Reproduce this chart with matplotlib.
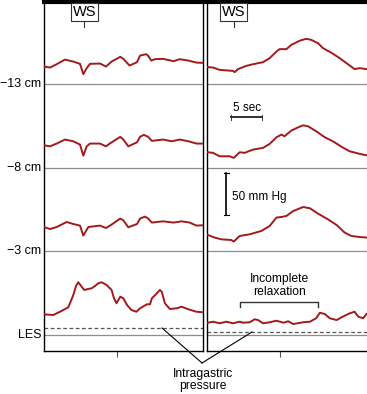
import numpy as np
import matplotlib
matplotlib.use("Agg")
import matplotlib.pyplot as plt
from matplotlib.lines import Line2D

plt.rcParams['font.family'] = ['Liberation Sans', 'DejaVu Sans']

# --- channel data: time (s) and pressure above channel baseline (mm Hg) ---
channel_labels = ["\u221213 cm", "\u22128 cm", "\u22123 cm", "LES"]
channel_offsets = [300, 200, 100, 0]

# left panel (wet swallow, normal)
t_left_13 = [0, 0.97, 2.05, 3.39, 4.73, 5.81, 6.34, 6.89, 7.42, 9.03, 10.0, 10.9, 12.3, 12.8,
             13.8, 15.0, 15.5, 16.5, 16.8, 17.3, 17.9, 19.2, 20.9, 21.9, 23.3, 24.6, 25.7]
p_left_13 = [20.7, 19.5, 23.5, 29, 26.6, 23.9, 11.6, 18.8, 23.9, 24.3, 20.7, 26.6, 32.3, 29.9,
             21.9, 25.9, 33.8, 35.5, 33.5, 27.8, 29.5, 29.9, 27.1, 29.5, 27.8, 25.4, 25.1]

t_left_8 = [0, 0.97, 2.05, 3.39, 4.73, 5.81, 6.34, 6.89, 7.42, 9.03, 10.0, 10.6, 12.3, 12.8,
            13.6, 15.0, 15.5, 16.1, 16.8, 17.4, 19.2, 20.6, 21.9, 23.3, 24.6, 25.7]
p_left_8 = [26.6, 25.4, 28.7, 33.5, 31.4, 27.5, 14.3, 25.4, 28.7, 28.7, 25.4, 28.7, 36.7, 33.5,
            25.4, 30.2, 36.7, 39.1, 36.7, 31.9, 33.5, 31.4, 33.5, 31.4, 28.7, 28.7]

t_left_3 = [0, 0.97, 2.05, 3.66, 4.73, 5.81, 6.34, 7.15, 9.03, 10.0, 10.9, 12.3, 12.8, 13.6,
            15.0, 15.5, 16.3, 16.8, 17.4, 19.2, 20.9, 22.2, 23.5, 24.6, 25.7]
p_left_3 = [29, 26.6, 29, 35, 32.6, 30.7, 18.8, 29, 30.7, 27.8, 31.9, 39.1, 37, 28.7,
            32.6, 39.1, 41.5, 39.1, 34.3, 35.8, 34.3, 35.8, 34.3, 30.7, 31.1]

t_left_les = [0, 1.5, 2.58, 3.92, 4.73, 5.16, 5.53, 6.08, 6.5, 7.15, 7.69, 8.22, 8.76, 9.31,
              10.1, 10.9, 11.3, 11.7, 12.3, 12.8, 13.4, 14.1, 14.9, 15.5, 16.6, 17.1, 17.4,
              18.2, 18.7, 19.0, 19.5, 20.3, 21.4, 22.2, 23.3, 24.6, 25.7]
p_left_les = [24.7, 23.9, 27.8, 33.1, 47.8, 58.5, 63, 57.7, 53.8, 55, 55.8, 58.5, 61.8, 63,
              59.7, 53.8, 43.8, 37.9, 45.8, 43.8, 35.8, 29.9, 27.8, 31.9, 36.7, 36.7, 43.8,
              49.8, 53.8, 51.7, 37.9, 31.1, 31.9, 33.8, 30.7, 27.8, 27.1]

# right panel (wet swallow, incomplete relaxation)
t_right_13 = [0.16, 0.97, 2.05, 4.19, 4.47, 5.0, 6.34, 7.42, 9.03, 10.1, 11.2, 11.7, 12.8,
              13.6, 15.0, 16.0, 16.8, 17.9, 18.7, 20.0, 21.4, 22.5, 23.8, 24.6, 25.7]
p_right_13 = [20, 19.5, 16.7, 15.5, 14, 17.6, 21.5, 23.5, 25.9, 30.7, 38.6, 41.5, 41.5,
              46.6, 51.7, 53.8, 52.6, 48.6, 42.7, 37.4, 30.7, 24.7, 17.6, 18.8, 17.6]

t_right_8 = [0.16, 0.97, 2.05, 3.66, 4.31, 5.27, 6.08, 7.42, 9.03, 10.1, 11.2, 12.0, 12.5,
             13.6, 14.7, 15.5, 16.3, 17.6, 19.0, 20.3, 22.0, 23.0, 24.6, 25.7]
p_right_8 = [18.3, 17.6, 13.5, 13.5, 11.6, 18.3, 17.6, 21.5, 23.5, 28.3, 36.2, 39.4, 37.4,
             44.2, 48.1, 50.5, 49.3, 43.4, 36.2, 31.4, 23.5, 19.5, 16.4, 14.7]

t_right_3 = [0.16, 1.24, 2.31, 3.92, 4.31, 5.27, 6.89, 8.76, 10.1, 11.2, 12.0, 12.8, 13.9,
             15.5, 16.6, 17.9, 19.5, 20.9, 22.2, 23.3, 24.6, 25.7]
p_right_3 = [19.5, 16.4, 14.3, 13.5, 11.6, 18.3, 20.3, 24.3, 30.2, 40.3, 41, 42.2, 48.1,
             52.9, 51.4, 45, 38.2, 31.4, 22.3, 18.3, 17.1, 16.4]

t_right_les = [0.16, 0.97, 2.05, 3.11, 4.19, 5.27, 5.81, 6.89, 7.69, 8.22, 9.03, 10.1, 11.2,
               12.3, 13.1, 13.9, 15.5, 16.6, 17.6, 18.2, 19.0, 19.8, 20.9, 21.9, 23.0,
               23.8, 24.4, 25.2, 25.7]
p_right_les = [14.7, 15.9, 14, 15.9, 14, 15.9, 14.7, 15.2, 18.8, 17.9, 14, 15.2, 17.1,
               14.7, 16.4, 13.1, 15.2, 15.9, 20, 26.6, 25.1, 20, 17.9, 21.9, 25.9,
               27.8, 21.9, 20, 25.1]

gastric_left = 8.4
gastric_right = 3.6

W, H = 367, 394
fig = plt.figure(figsize=(W / 100, H / 100), dpi=100)

def fx(px):
    return px / W

def fy(py):
    return 1 - py / H

trace_color = "#a3191c"
base_color = "#8c8c8c"

ax_l = fig.add_axes([fx(44), fy(351), 159 / W, 349 / H])
ax_r = fig.add_axes([fx(207), fy(351), 160 / W, 349 / H])

left_traces = [(t_left_13, p_left_13), (t_left_8, p_left_8), (t_left_3, p_left_3), (t_left_les, p_left_les)]
right_traces = [(t_right_13, p_right_13), (t_right_8, p_right_8), (t_right_3, p_right_3), (t_right_les, p_right_les)]

for ax, traces, xmax, gastric in [(ax_l, left_traces, 25.65, gastric_left),
                                  (ax_r, right_traces, 25.8, gastric_right)]:
    for (t, p), off in zip(traces, channel_offsets):
        ax.axhline(off, color=base_color, lw=0.9, zorder=1)
        ax.plot(t, np.array(p) + off, color=trace_color, lw=1.4, zorder=3)
    ax.axhline(gastric, color="#555555", lw=0.9, ls=(0, (3, 2)), zorder=2)
    ax.set_xlim(0, xmax)
    ax.set_ylim(-19.1, 397.8)
    ax.set_yticks([])
    ax.set_xticks([11.8])
    ax.set_xticklabels([])
    ax.tick_params(axis="x", direction="out", length=4, width=0.8, color="#555555")
    ax.spines["top"].set_linewidth(3)
    for s in ["left", "bottom", "right"]:
        ax.spines[s].set_linewidth(1.0)

ax_r.spines["right"].set_visible(False)

# channel labels
for lab, off in zip(channel_labels, channel_offsets):
    ax_l.text(-0.45, off, lab, ha="right", va="center", fontsize=9, clip_on=False)

# WS markers
for ax, tw in [(ax_l, 6.5), (ax_r, 4.3)]:
    ax.text(tw, 386, "WS", ha="center", va="center", fontsize=10.5,
            bbox=dict(boxstyle="square,pad=0.12", fc="white", ec="#333333", lw=0.8))
    ax.plot([tw, tw], [375, 368], color="#333333", lw=0.8)

# 5 sec scale bar
ax_r.plot([3.9, 8.9], [260, 260], color="#333333", lw=1.4)
ax_r.plot([3.9, 3.9], [257, 263], color="#333333", lw=0.7)
ax_r.plot([8.9, 8.9], [257, 263], color="#333333", lw=0.7)
ax_r.text(6.4, 271, "5 sec", ha="center", va="center", fontsize=8.5)

# 50 mm Hg scale bar
ax_r.plot([3.1, 3.1], [143, 193], color="black", lw=1.2)
ax_r.plot([2.7, 3.5], [193, 193], color="black", lw=0.8)
ax_r.plot([2.7, 3.5], [143, 143], color="black", lw=0.8)
ax_r.text(4.1, 165, "50 mm Hg", ha="left", va="center", fontsize=8.5)

# incomplete relaxation bracket
ax_r.plot([5.3, 5.3, 17.9, 17.9], [34, 39, 39, 34], color="#333333", lw=1.0)
ax_r.text(11.7, 59, "Incomplete\nrelaxation", ha="center", va="center",
          fontsize=8.7, linespacing=1.1)

# intragastric pressure pointers
fig.add_artist(Line2D([fx(162), fx(202)], [fy(328), fy(363)], color="black", lw=0.8))
fig.add_artist(Line2D([fx(252), fx(202)], [fy(332), fy(363)], color="black", lw=0.8))
fig.text(fx(203), fy(380), "Intragastric\npressure", ha="center", va="center",
         fontsize=8.7, linespacing=1.1)

fig.savefig("out.png", dpi=100)
